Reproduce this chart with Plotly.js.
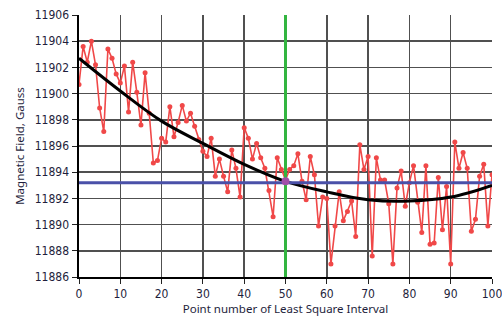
<!DOCTYPE html>
<html><head><meta charset="utf-8">
<script src="https://cdn.plot.ly/plotly-3.0.1.min.js"></script>
<style>html,body{margin:0;padding:0;background:#fff}#chart{width:502px;height:323px}</style>
</head><body><div id="chart"></div>
<script>
// Measured field values (Gauss) for point numbers 0..100
const pointNumbers = Array.from({length: 101}, (_, i) => i);
const fieldValues = [
 11900.7, 11903.6, 11902.4, 11904.0, 11902.2, 11898.9, 11897.1, 11903.4, 11902.7, 11901.5,
 11900.8, 11902.1, 11898.6, 11902.4, 11900.1, 11897.6, 11901.6, 11898.5, 11894.7, 11894.9,
 11896.6, 11896.3, 11899.0, 11896.7, 11897.8, 11899.1, 11897.9, 11898.5, 11897.5, 11896.5,
 11895.6, 11895.2, 11896.6, 11893.7, 11895.0, 11893.7, 11892.5, 11895.7, 11894.3, 11892.1,
 11897.4, 11896.6, 11895.0, 11896.2, 11895.1, 11894.3, 11892.6, 11890.6, 11895.1, 11894.2,
 11893.4, 11894.2, 11894.5, 11895.4, 11893.3, 11891.9, 11895.2, 11893.8, 11889.9, 11892.1,
 11892.0, 11887.0, 11889.9, 11892.5, 11890.3, 11891.0, 11891.8, 11889.1, 11896.1, 11894.2,
 11895.2, 11887.6, 11895.1, 11893.4, 11893.4, 11891.6, 11887.0, 11892.8, 11894.1, 11891.4,
 11893.2, 11894.5, 11891.7, 11889.4, 11894.5, 11888.5, 11888.6, 11893.6, 11889.6, 11892.9,
 11887.0, 11896.3, 11894.3, 11895.5, 11894.3, 11889.5, 11890.4, 11893.7, 11894.6, 11889.9,
 11893.8
];
// Least-square fit curve
const fitX = [0, 10, 20, 30, 40, 50, 60, 70, 80, 90, 100];
const fitY = [11902.7, 11900.2, 11897.9, 11896.2, 11894.6, 11893.3, 11892.5, 11891.9, 11891.8, 11892.1, 11893.0];
// Reference level and selected point
const levelValue = 11893.2;
const levelX = [0, 100];
const selectedX = 50;
const selectedY = 11893.3;
const yRange = [11886, 11906];
const xTicks = [0, 10, 20, 30, 40, 50, 60, 70, 80, 90, 100];
const yTicks = [11886, 11888, 11890, 11892, 11894, 11896, 11898, 11900, 11902, 11904, 11906];

const traces = [
  {x: pointNumbers, y: fieldValues, type: 'scatter', mode: 'lines+markers',
   line: {color: '#f04848', width: 1.6}, marker: {color: '#f04848', size: 5}},
  {x: fitX, y: fitY, type: 'scatter', mode: 'lines',
   line: {color: '#000000', width: 3, shape: 'spline', smoothing: 1.0}},
  {x: levelX, y: levelX.map(() => levelValue), type: 'scatter', mode: 'lines',
   line: {color: '#4a50a8', width: 3}},
  {x: [selectedX, selectedX], y: yRange, type: 'scatter', mode: 'lines',
   line: {color: '#33b540', width: 3}},
  {x: [selectedX], y: [selectedY], type: 'scatter', mode: 'markers',
   marker: {color: '#a050a8', size: 8}}
];

const fontFam = 'DejaVu Sans Condensed, DejaVu Sans, sans-serif';
const layout = {
  width: 502, height: 323,
  margin: {l: 79, r: 10, t: 15, b: 46},
  paper_bgcolor: '#ffffff', plot_bgcolor: '#ffffff',
  showlegend: false,
  font: {family: fontFam, size: 11, color: '#1e1e3c'},
  xaxis: {
    range: [0, 100], tickvals: xTicks, ticktext: xTicks.map(String),
    ticks: 'outside', ticklen: 5, tickcolor: '#222', ticklabeloverflow: 'allow',
    showgrid: true, gridcolor: '#505050', gridwidth: 1.5,
    showline: true, linecolor: '#000', linewidth: 2, zeroline: false,
    tickfont: {family: fontFam, size: 12, color: '#1e1e3c'},
    title: {text: 'Point number of Least Square Interval', font: {family: 'Noto Sans, sans-serif', size: 11.5, color: '#1e1e3c'}, standoff: 4}
  },
  yaxis: {
    range: yRange, tickvals: yTicks, ticktext: yTicks.map(String),
    ticks: 'outside', ticklen: 5, tickcolor: '#222',
    showgrid: true, gridcolor: '#505050', gridwidth: 1.5,
    showline: true, linecolor: '#000', linewidth: 2.5, zeroline: false,
    tickfont: {family: fontFam, size: 12, color: '#1e1e3c'},
    title: {text: 'Magnetic Field, Gauss', font: {family: 'Noto Sans, sans-serif', size: 11.5, color: '#1e1e3c'}, standoff: 8}
  }
};
Plotly.newPlot('chart', traces, layout, {staticPlot: true, displayModeBar: false});
</script></body></html>
